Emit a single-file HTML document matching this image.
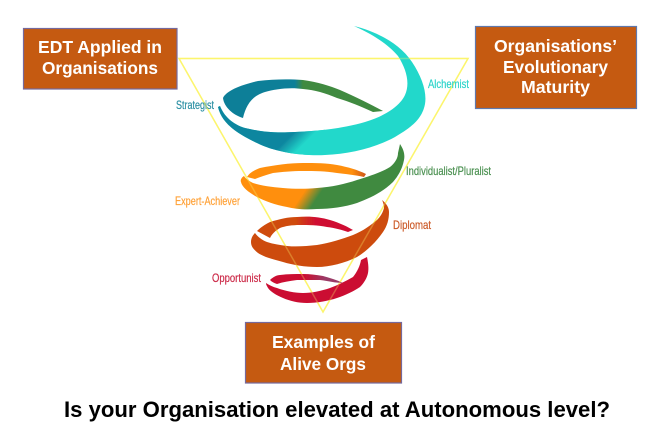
<!DOCTYPE html>
<html><head><meta charset="utf-8"><style>
html,body{margin:0;padding:0;background:#fff;width:672px;height:434px;overflow:hidden}
svg{display:block}
.b{font:bold 17.5px "Liberation Sans",sans-serif;fill:#fff}
.l{font:12px "Liberation Sans",sans-serif;stroke-width:.2}
</style></head><body>
<svg width="672" height="434" viewBox="0 0 672 434" xmlns="http://www.w3.org/2000/svg">
<defs>
<linearGradient id="g1" gradientUnits="userSpaceOnUse" x1="289" y1="137" x2="300" y2="148"><stop offset="0" stop-color="#0f869f"/><stop offset="1" stop-color="#22d8cb"/></linearGradient>
<linearGradient id="g2" gradientUnits="userSpaceOnUse" x1="295" y1="0" x2="303" y2="0"><stop offset="0" stop-color="#0f7f98"/><stop offset="1" stop-color="#3f8a3f"/></linearGradient>
<linearGradient id="g3" gradientUnits="userSpaceOnUse" x1="304" y1="192" x2="316" y2="200"><stop offset="0" stop-color="#ff8f0c"/><stop offset="1" stop-color="#408a40"/></linearGradient>
<linearGradient id="g4" gradientUnits="userSpaceOnUse" x1="295" y1="0" x2="315" y2="0"><stop offset="0" stop-color="#cf4c0c"/><stop offset="1" stop-color="#cf1030"/></linearGradient>
<linearGradient id="g5" gradientUnits="userSpaceOnUse" x1="305" y1="0" x2="325" y2="0"><stop offset="0" stop-color="#cb1030"/><stop offset="1" stop-color="#9a3a66"/></linearGradient>
<linearGradient id="g6" gradientUnits="userSpaceOnUse" x1="352" y1="0" x2="367" y2="0"><stop offset="0" stop-color="#ff8f0c"/><stop offset="1" stop-color="#c8501a"/></linearGradient>
<filter id="s" x="-5%" y="-5%" width="110%" height="110%"><feGaussianBlur stdDeviation="0.35"/></filter>
<clipPath id="c1"><rect x="210" y="100" width="115" height="65"/></clipPath>
</defs>

<path d="M179 58.5H468L323 312Z" fill="none" stroke="#fdf56e" stroke-width="1.5"/>

<g filter="url(#s)">
<path d="M354 26C378 32 400 44 412 62C422 77 427 92 425 104C422 120 410 128 395 137C375 148 350 154 325 155C300 156 275 152 257 143C238 134 222 124 218 107L220 106C224 116 232 124 245 128C262 132 275 133 295 132C320 131 345 128 365 122C385 116 400 106 405 95C410 84 407 70 398 56C388 44 372 34 354 26Z" fill="#22d8cb"/>
<path clip-path="url(#c1)" d="M354 26C378 32 400 44 412 62C422 77 427 92 425 104C422 120 410 128 395 137C375 148 350 154 325 155C300 156 275 152 257 143C238 134 222 124 218 107L220 106C224 116 232 124 245 128C262 132 275 133 295 132C320 131 345 128 365 122C385 116 400 106 405 95C410 84 407 70 398 56C388 44 372 34 354 26Z" fill="url(#g1)"/>
<path d="M243 118C233 115 224 107 223 98C226 91 240 85 258 81C275 79 290 79 303 80C318 82 330 86 340 90C356 97 370 104 383 111L373 112C360 106 350 102 337 98C325 93 315 90 303 89C290 87 275 89 265 92C252 96 246 105 243 118Z" fill="url(#g2)"/>
<path d="M247 177C250 172 255 170 260 168C275 165 290 163 303 163C315 163 327 163 337 165C348 167 358 170 366 174L364 177C355 175 345 174 337 173C325 171 315 171 303 171C292 171 282 172 273 173C266 175 260 177 255 179Z" fill="url(#g6)"/>
<path d="M400 144C404 150 405 155 404 160C402 170 398 176 393 182C383 192 370 198 357 203C345 207 330 209 317 209C305 210 295 209 287 207C275 205 265 201 257 197C248 192 242 187 241 182C240 180 242 177 244 176C246 179 249 181 253 183C262 186 272 187 283 188C295 189 305 189 317 188C332 187 345 184 357 180C370 176 382 172 390 167C395 163 398 158 398 153Z" fill="url(#g3)"/>
<path d="M270 238L257 231C262 226 268 223 270 222C280 219 288 217 297 217C310 216 320 217 330 220C340 223 348 227 353 230L348 232C342 230 335 228 327 227C318 225 308 225 300 225C292 225 285 226 280 228C275 231 272 234 270 238Z" fill="url(#g4)"/>
<path d="M382 200C387 204 389 208 389 212C389 220 387 226 383 232C376 242 367 251 357 257C345 263 330 267 317 267C305 267 293 265 283 262C272 259 264 257 258 253C253 249 251 246 251 242C251 238 253 235 255 233C258 237 262 240 267 242C273 244 280 245 287 246C297 247 307 246 317 245C330 243 342 239 353 235C363 231 371 225 377 220C381 216 383 212 384 208C384 205 383 202 382 200Z" fill="#cd4c0b"/>
<path d="M270 280C273 277 277 275 280 275C288 274 295 274 303 274C310 274 317 275 323 276C330 278 337 280 343 283C336 283 328 281 320 280C312 280 305 280 297 280C290 281 283 282 277 284C274 283 272 282 270 280Z" fill="url(#g5)"/>
<path d="M367 257C368 262 369 268 368 273C367 278 364 283 360 287C354 291 346 295 337 298C328 301 317 303 307 303C298 303 290 301 283 298C276 295 271 292 268 288C267 286 266 285 266 283C269 285 273 287 277 288C285 291 295 293 303 293C312 293 321 291 330 288C338 285 346 281 353 277C357 272 360 266 361 260Z" fill="#cb1030"/>
</g>

<path d="M179 58.5H468L323 312Z" fill="none" stroke="#fdf56e" stroke-width="1.5" opacity=".3"/>

<text class="l" x="176" y="109" fill="#2a8fa3" stroke="#2a8fa3" textLength="38" lengthAdjust="spacingAndGlyphs">Strategist</text>
<text class="l" x="428" y="88" fill="#2cd4ca" stroke="#2cd4ca" textLength="41" lengthAdjust="spacingAndGlyphs">Alchemist</text>
<text class="l" x="406" y="175" fill="#4a9050" stroke="#4a9050" textLength="85" lengthAdjust="spacingAndGlyphs">Individualist/Pluralist</text>
<text class="l" x="175" y="205" fill="#ffa035" stroke="#ffa035" textLength="65" lengthAdjust="spacingAndGlyphs">Expert-Achiever</text>
<text class="l" x="393" y="229" fill="#cc5a28" stroke="#cc5a28" textLength="38" lengthAdjust="spacingAndGlyphs">Diplomat</text>
<text class="l" x="212" y="282" fill="#cc2a48" stroke="#cc2a48" textLength="49" lengthAdjust="spacingAndGlyphs">Opportunist</text>

<rect x="23.5" y="28.5" width="153.5" height="60.5" fill="#c55a11" stroke="#76699c" stroke-width="1.2"/>
<text class="b" x="38" y="53" textLength="124" lengthAdjust="spacingAndGlyphs">EDT Applied in</text>
<text class="b" x="42" y="74" textLength="116" lengthAdjust="spacingAndGlyphs">Organisations</text>

<rect x="475.5" y="26.5" width="161" height="82" fill="#c55a11" stroke="#5f78ad" stroke-width="1.2"/>
<text class="b" x="494" y="52" textLength="123" lengthAdjust="spacingAndGlyphs">Organisations’</text>
<text class="b" x="503" y="73" textLength="105" lengthAdjust="spacingAndGlyphs">Evolutionary</text>
<text class="b" x="521" y="93" textLength="69" lengthAdjust="spacingAndGlyphs">Maturity</text>

<rect x="245.5" y="322.5" width="156" height="60.5" fill="#c55a11" stroke="#76699c" stroke-width="1.2"/>
<text class="b" x="272" y="348" textLength="103" lengthAdjust="spacingAndGlyphs">Examples of</text>
<text class="b" x="280" y="370" textLength="86" lengthAdjust="spacingAndGlyphs">Alive Orgs</text>

<text x="64" y="417" font-family="'Liberation Sans',sans-serif" font-weight="bold" font-size="22" fill="#000" textLength="546" lengthAdjust="spacingAndGlyphs">Is your Organisation elevated at Autonomous level?</text>
</svg>
</body></html>
